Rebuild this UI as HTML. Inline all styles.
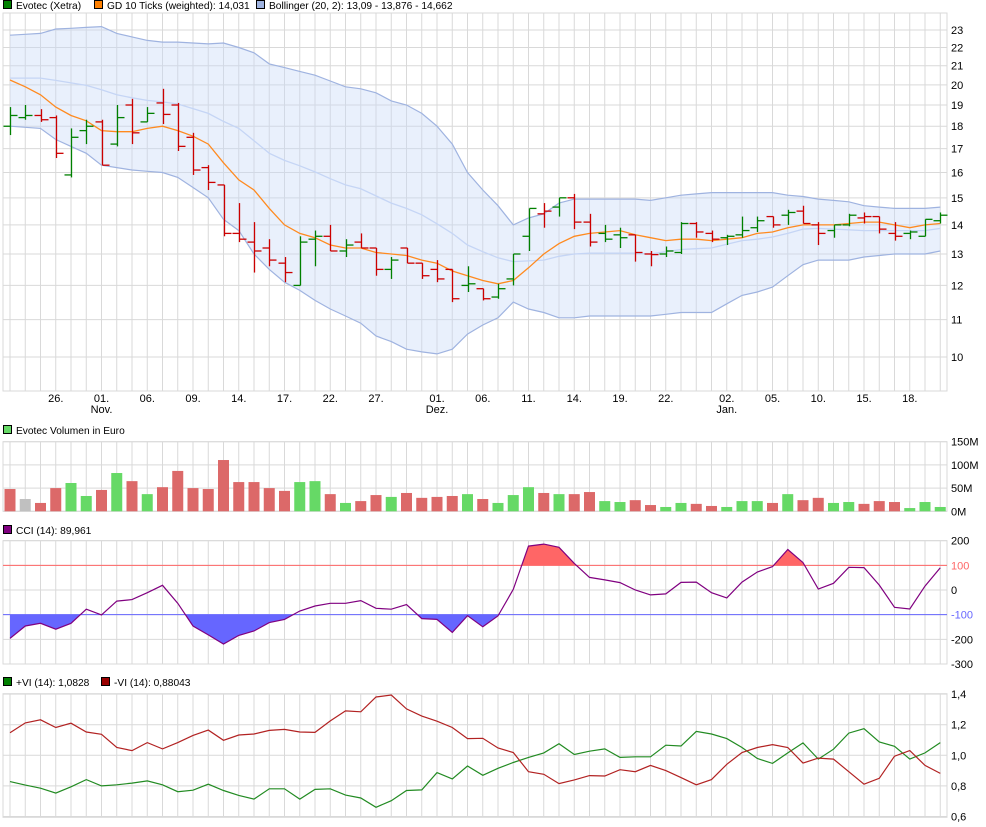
<!DOCTYPE html>
<html><head><meta charset="utf-8"><style>
body{margin:0;background:#fff;}
svg{display:block;font-family:"Liberation Sans",sans-serif;font-size:11px;}
</style></head><body>
<svg id="c" width="986" height="827" viewBox="0 0 986 827"></svg>
<script>
// ---------- data ----------
const xLabels=["26.","01.","06.","09.","14.","17.","22.","27.","01.","06.","11.","14.","19.","22.","02.","05.","10.","15.","18."];
const xLabelIdx=[3,6,9,12,15,18,21,24,28,31,34,37,40,43,47,50,53,56,59];
const monthLabels=["Nov.","Dez.","Jan."];
const monthIdx=[6,28,47];
const opens=[18.0,18.4,18.5,18.4,15.9,17.8,18.2,17.2,19.0,18.2,19.1,19.0,17.5,16.2,15.5,13.7,13.4,13.2,12.7,12.0,13.5,13.6,13.1,13.4,13.2,12.5,13.2,12.7,12.5,12.5,12.0,11.9,11.65,12.2,13.6,14.4,14.65,15.0,14.1,13.7,13.65,13.65,13.0,13.0,13.05,14.05,13.7,13.55,13.65,13.9,14.3,14.35,14.5,14.0,13.8,14.0,14.25,14.3,13.7,13.7,13.6,14.15];
const highs=[18.9,19.0,18.8,18.5,17.9,18.3,18.3,19.0,19.3,18.9,19.8,19.1,17.7,16.3,15.5,14.8,14.1,13.5,12.9,13.6,13.8,14.0,13.5,13.7,13.2,12.9,13.2,12.7,12.8,12.5,12.6,11.9,12.05,13.0,14.6,14.8,15.0,15.15,14.4,14.0,13.9,13.65,13.1,13.25,14.1,14.1,13.8,13.65,14.3,14.3,14.3,14.55,14.7,14.1,14.0,14.4,14.45,14.3,14.1,13.8,14.2,14.45];
const lows=[17.6,18.3,18.2,16.6,15.8,17.2,16.3,17.1,17.2,18.2,18.1,16.9,15.9,15.3,13.6,13.4,12.4,12.6,12.1,12.0,12.6,13.1,12.9,13.2,12.3,12.2,12.7,12.2,12.1,11.5,11.8,11.55,11.6,12.0,13.1,13.9,14.3,13.85,13.25,13.4,13.2,12.75,12.6,12.9,13.0,13.55,13.4,13.3,13.55,13.75,13.9,14.0,14.05,13.3,13.55,13.95,14.05,13.7,13.45,13.5,13.6,14.05];
const closes=[18.5,18.5,18.3,16.8,17.5,18.0,16.3,18.4,17.7,18.6,18.55,17.1,16.1,15.6,13.7,13.5,13.1,12.8,12.4,13.4,13.6,13.1,13.3,13.2,12.5,12.8,12.7,12.3,12.2,11.6,12.05,11.6,11.9,13.0,14.6,14.5,15.0,14.1,13.4,13.5,13.55,13.05,12.98,13.1,14.05,13.75,13.5,13.6,13.8,14.15,14.0,14.45,14.05,13.7,14.0,14.35,14.3,13.85,13.6,13.75,14.2,14.35];
const gd10=[20.25,19.9,19.5,18.9,18.5,18.25,17.8,17.75,17.75,17.9,18.0,17.8,17.55,17.2,16.4,15.7,15.3,14.6,14.0,13.7,13.55,13.3,13.2,13.2,13.05,13.0,12.95,12.8,12.7,12.45,12.3,12.15,12.05,12.15,12.55,13.0,13.35,13.6,13.7,13.75,13.8,13.65,13.55,13.45,13.5,13.5,13.45,13.5,13.55,13.7,13.75,13.9,14.0,14.0,14.0,14.05,14.1,14.1,14.0,13.9,14.0,14.05];
const bbUpper=[22.7,22.75,22.8,23.06,23.1,23.15,23.2,22.8,22.6,22.4,22.3,22.3,22.25,22.2,22.25,22.0,21.7,21.1,20.9,20.7,20.5,20.2,19.9,19.8,19.6,19.2,19.0,18.6,18.0,17.2,16.0,15.3,14.7,14.0,14.25,14.4,14.8,14.95,14.95,14.95,14.95,14.95,14.9,15.0,15.1,15.15,15.2,15.2,15.2,15.2,15.2,15.1,15.05,14.95,14.9,14.85,14.7,14.65,14.6,14.6,14.6,14.65];
const bbLower=[18.0,17.95,17.9,17.4,17.1,16.8,16.3,16.2,16.1,16.05,16.0,15.8,15.4,15.0,14.2,13.8,13.0,12.5,12.1,11.85,11.55,11.3,11.1,10.9,10.55,10.4,10.2,10.13,10.08,10.2,10.6,10.85,11.05,11.5,11.3,11.2,11.05,11.05,11.1,11.1,11.1,11.1,11.1,11.15,11.2,11.2,11.2,11.45,11.7,11.8,11.95,12.3,12.65,12.8,12.8,12.8,12.9,12.95,13.0,13.0,13.0,13.1];
const volumes=[48,26.5,18,50,61,33,46,82.5,65,37,52,87,50,48,110.5,63,63,50,44,63,65,37,18,22,35,31,39.5,29,31,33,37,26.5,18,35,52,39.5,37,37,41.5,22,20,24,13.5,9.3,18,16,11.5,9.3,22,22,18,37,24,29,18,20,16,22,20,7,20,9.3];
const volDir=["d","n","d","d","u","u","d","u","d","u","d","d","d","d","d","d","d","d","d","u","u","d","u","d","d","u","d","d","d","d","u","d","u","u","u","d","u","d","d","u","u","d","d","u","u","d","d","u","u","u","d","u","d","d","u","u","d","d","d","u","u","u"];
const cci=[-196,-146,-135,-159,-135,-78,-101,-45,-39,-11,19,-54,-146,-182,-219,-184,-166,-132,-119,-85,-65,-54,-54,-43,-74,-78,-59,-116,-119,-172,-104,-149,-105,3,178,186,173,108,51,41,30,0,-20,-16,31,32,-11,-32,32,73,95,164,111,4,27,92,91,20,-70,-77,16,90];
const viPlus=[0.828,0.805,0.785,0.753,0.794,0.841,0.800,0.807,0.818,0.833,0.807,0.762,0.772,0.811,0.770,0.738,0.714,0.781,0.781,0.714,0.777,0.781,0.740,0.721,0.660,0.703,0.770,0.774,0.887,0.846,0.930,0.869,0.915,0.953,0.986,1.016,1.076,1.005,1.027,1.042,0.986,0.990,0.990,1.066,1.061,1.156,1.139,1.109,1.051,0.979,0.947,1.016,1.081,0.975,1.040,1.145,1.174,1.087,1.059,0.975,1.016,1.083];
const viMinus=[1.148,1.212,1.232,1.182,1.210,1.152,1.137,1.051,1.031,1.083,1.042,1.083,1.130,1.165,1.098,1.133,1.139,1.163,1.169,1.152,1.150,1.225,1.290,1.284,1.381,1.394,1.303,1.256,1.223,1.182,1.109,1.111,1.048,1.018,0.893,0.876,0.815,0.839,0.867,0.865,0.906,0.893,0.934,0.900,0.854,0.807,0.841,0.941,1.018,1.051,1.070,1.051,0.949,0.982,0.975,0.893,0.811,0.850,0.994,1.031,0.934,0.882];
const priceTicks=[10,11,12,13,14,15,16,17,18,19,20,21,22,23];
const volTicks=[0,50,100,150];
const cciTicks=[200,100,0,-100,-200,-300];
const viTicks=[1.4,1.2,1.0,0.8,0.6];

// ---------- helpers ----------
const svg=document.getElementById('c');
const NS='http://www.w3.org/2000/svg';
function el(tag,attrs,parent){const e=document.createElementNS(NS,tag);for(const k in attrs)e.setAttribute(k,attrs[k]);(parent||svg).appendChild(e);return e;}
const L=3,R=947;
const xOf=i=>10+15.25*i;
const yPrice=p=>357-392.6*Math.log(p/10);
const yVol=v=>511.3-v*0.464;
const yCci=v=>590-v*0.2467;
const yVi=v=>755.3-(v-1)*153;
const GRID='#d9d9d9';
const N=closes.length;

function panel(name,top,bottom,hTicks,yf,fmt,colorFn){
  const g=el('g',{});
  
  
  for(let i=0;i<N;i++){el('line',{x1:xOf(i),x2:xOf(i),y1:top,y2:bottom,stroke:GRID,'stroke-width':1},g);}
  hTicks.forEach(t=>{
    const y=yf(t);
    el('line',{x1:L,x2:R,y1:y,y2:y,stroke:GRID,'stroke-width':1},g);
    const tx=el('text',{x:951,y:y+4,fill:colorFn?colorFn(t):'#000','font-size':'11'},g);
    
    
    tx.textContent=fmt(t);
  });
  el('rect',{x:L,y:top,width:R-L,height:bottom-top,fill:'none',stroke:GRID,'stroke-width':1},g);
  return g;
}
function legend(items,y){
  items.forEach(it=>{
    const r=el('rect',{x:it.x+0.5,y:y-8.5,width:8,height:8,fill:it.c,stroke:'#000','stroke-width':1});
    
    
    const t=el('text',{x:it.x+13,y:y,fill:'#000','font-size':'10.2'});
    
    
    t.textContent=it.t;
  });
}
function pathOf(arr,yf){return arr.map((v,i)=>(i?'L':'M')+xOf(i).toFixed(1)+' '+yf(v).toFixed(1)).join(' ');}

// ---------- price panel ----------
legend([{x:3,c:'#008000',t:'Evotec (Xetra)'},{x:94,c:'#ff8000',t:'GD 10 Ticks (weighted): 14,031'},{x:256,c:'#9fb3e0',t:'Bollinger (20, 2): 13,09 - 13,876 - 14,662'}],9);
const pg=panel('price-panel',13,391,priceTicks,yPrice,v=>String(v));
let bb=bbUpper.map((v,i)=>xOf(i)+','+yPrice(v)).concat(bbLower.map((v,i)=>xOf(i)+','+yPrice(v)).reverse()).join(' ');
const bf=el('polygon',{points:bb,fill:'#c9daf8','fill-opacity':0.4});


const bbMid=bbUpper.map((u,i)=>(u+bbLower[i])/2);
const bm=el('path',{d:pathOf(bbMid,yPrice),fill:'none',stroke:'#c5d5f5','stroke-width':1.3});


const bu=el('path',{d:pathOf(bbUpper,yPrice),fill:'none',stroke:'#9fb3e0','stroke-width':1.2});


const bl=el('path',{d:pathOf(bbLower,yPrice),fill:'none',stroke:'#9fb3e0','stroke-width':1.2});


const gl=el('path',{d:pathOf(gd10,yPrice),fill:'none',stroke:'#ff8a1f','stroke-width':1.3});


for(let i=0;i<N;i++){
  const up=i===0?true:closes[i]>=closes[i-1];
  const col=up?'#008000':'#cc0000';
  const x=Math.round(xOf(i))+0.5;
  const g=el('g',{stroke:col,'stroke-width':1.3});
  
  
  el('line',{x1:x,x2:x,y1:yPrice(highs[i]),y2:yPrice(lows[i])},g);
  el('line',{x1:x-7,x2:x,y1:yPrice(opens[i]),y2:yPrice(opens[i])},g);
  el('line',{x1:x,x2:x+7,y1:yPrice(closes[i]),y2:yPrice(closes[i])},g);
}
xLabels.forEach((t,k)=>{
  const tx=el('text',{x:xOf(xLabelIdx[k]),y:402,'text-anchor':'middle',fill:'#000','font-size':'11'});
  
  
  tx.textContent=t;
});
monthLabels.forEach((t,k)=>{
  const tx=el('text',{x:xOf(monthIdx[k]),y:413,'text-anchor':'middle',fill:'#000','font-size':'11'});
  
  
  tx.textContent=t;
});

// ---------- volume ----------
legend([{x:3,c:'#66d966',t:'Evotec Volumen in Euro'}],434);
panel('volume-panel',441.7,511.3,volTicks,yVol,v=>v+'M');
volumes.forEach((v,i)=>{
  const c=volDir[i]==='u'?'#66d966':volDir[i]==='d'?'#dc6969':'#c0c0c0';
  const r=el('rect',{x:xOf(i)-5.5,y:yVol(v),width:11,height:511.3-yVol(v),fill:c});
  
  
});

// ---------- CCI ----------
legend([{x:3,c:'#800080',t:'CCI (14): 89,961'}],534);
panel('cci-panel',540.7,664,cciTicks,yCci,v=>String(v),t=>t===100?'#ff6666':t===-100?'#6666ff':'#000');
const defs=el('defs',{});
const c1=el('clipPath',{id:'above'},defs);el('rect',{x:L,y:540,width:R-L,height:yCci(100)-540},c1);
const c2=el('clipPath',{id:'below'},defs);el('rect',{x:L,y:yCci(-100),width:R-L,height:664-yCci(-100)},c2);
const poly=(lvl)=>'M'+xOf(0)+' '+yCci(lvl)+' '+cci.map((v,i)=>'L'+xOf(i)+' '+yCci(v)).join(' ')+' L'+xOf(N-1)+' '+yCci(lvl)+'Z';
const fa=el('path',{d:poly(100),fill:'#ff6666','clip-path':'url(#above)'});


const fb=el('path',{d:poly(-100),fill:'#6666ff','clip-path':'url(#below)'});


const l100=el('line',{x1:L,x2:R,y1:yCci(100),y2:yCci(100),stroke:'#ff6666','stroke-width':1});


const lm100=el('line',{x1:L,x2:R,y1:yCci(-100),y2:yCci(-100),stroke:'#6666ff','stroke-width':1});


const cl=el('path',{d:pathOf(cci,yCci),fill:'none',stroke:'#800080','stroke-width':1.2});



// ---------- VI ----------
legend([{x:3,c:'#008000',t:'+VI (14): 1,0828'},{x:101,c:'#990000',t:'-VI (14): 0,88043'}],686);
panel('vi-panel',693.7,817.3,viTicks,yVi,v=>v.toFixed(1).replace('.',','));
const vp=el('path',{d:pathOf(viPlus,yVi),fill:'none',stroke:'#228b22','stroke-width':1.2});


const vm=el('path',{d:pathOf(viMinus,yVi),fill:'none',stroke:'#b22222','stroke-width':1.2});


</script>
</body></html>
